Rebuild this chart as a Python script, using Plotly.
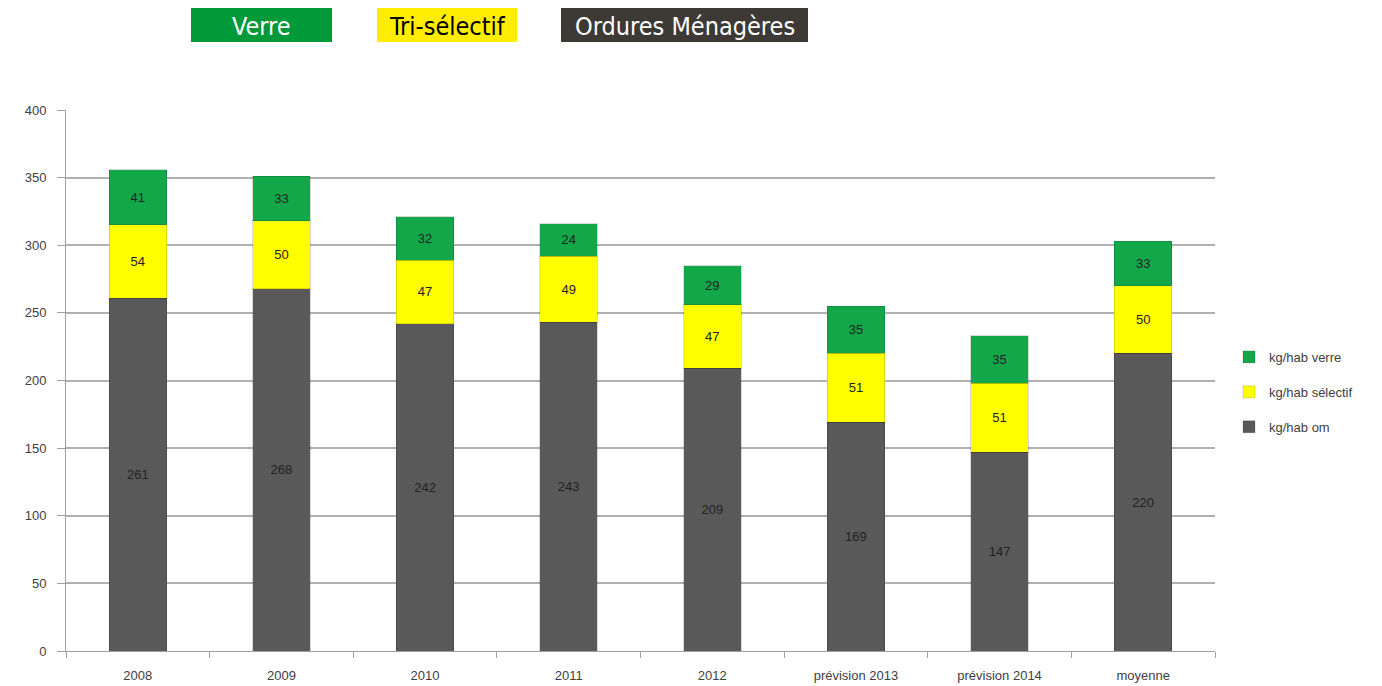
import plotly.graph_objects as go

categories = ["2008", "2009", "2010", "2011", "2012", "prévision 2013", "prévision 2014", "moyenne"]
om = [261, 268, 242, 243, 209, 169, 147, 220]
selectif = [54, 50, 47, 49, 47, 51, 51, 50]
verre = [41, 33, 32, 24, 29, 35, 35, 33]
y_ticks = [0, 50, 100, 150, 200, 250, 300, 350, 400]

# page offset (body margin) in px
OFF = 8
L, T = 66 - OFF, 110 - OFF
PW, PH = 1149, 541

fig = go.Figure()
series = [
    ("kg/hab om", om, "#595959", "g1", 3),
    ("kg/hab sélectif", selectif, "#ffff00", "g2", 2),
    ("kg/hab verre", verre, "#12a84a", "g3", 1),
]
for name, vals, col, grp, rank in series:
    fig.add_trace(go.Bar(
        x=categories, y=vals, name=name, legendgroup=grp, legendrank=rank,
        marker=dict(color=col, line=dict(color="rgba(0,0,0,0.15)", width=1)),
        text=[str(v) for v in vals], textposition="inside", insidetextanchor="middle",
        textfont=dict(family="Liberation Sans, Arial, sans-serif", size=13, color="#222222"),
        textangle=0, cliponaxis=False,
    ))

fig.update_layout(
    barmode="stack", bargap=0.6,
    width=1382, height=686,
    margin=dict(l=L, r=1382 - L - PW, t=T, b=686 - T - PH),
    paper_bgcolor="white", plot_bgcolor="white",
    font=dict(family="Liberation Sans, Arial, sans-serif", size=13, color="#404040"),
    showlegend=True,
    legend=dict(x=(1229 - OFF - L) / PW, y=(T + PH - (392 - OFF)) / PH,
                xanchor="left", yanchor="middle",
                traceorder="grouped", tracegroupgap=15,
                font=dict(size=13, color="#404040"), itemwidth=30),
)
fig.update_xaxes(
    type="category", showline=True, linecolor="#a0a0a0", linewidth=1,
    ticks="outside", tickson="boundaries", ticklen=6, tickcolor="#a0a0a0",
    ticklabelstandoff=12,
    showgrid=False, tickfont=dict(size=13, color="#404040"),
)
fig.update_yaxes(
    range=[0, 400], tickvals=y_ticks, showline=True, linecolor="#a0a0a0", linewidth=1,
    ticks="outside", ticklen=8, tickcolor="#a0a0a0", ticklabelstandoff=8,
    showgrid=True, gridcolor="#b0b0b0", gridwidth=2, zeroline=False,
    tickfont=dict(size=13, color="#404040"),
)

boxes = [
    ("Verre", 191, 332, "#009a3b", "white"),
    ("Tri-sélectif", 377, 517, "#ffed00", "black"),
    ("Ordures Ménagères", 561, 808, "#3d3935", "white"),
]
for label, x0, x1, bg, fc in boxes:
    fx0, fx1 = x0 - OFF - L, x1 - OFF - L
    fy_top, fy_bot = 6 - OFF, 42 - OFF
    fig.add_shape(type="rect", xref="paper", yref="paper",
                  x0=fx0 / PW, x1=fx1 / PW,
                  y0=(T + PH - fy_bot) / PH, y1=(T + PH - fy_top) / PH,
                  fillcolor=bg, line=dict(width=0), layer="above")
    fig.add_annotation(xref="paper", yref="paper",
                       x=(fx0 + fx1) / 2 / PW, y=(T + PH - ((fy_top + fy_bot) / 2 + 2)) / PH,
                       text=label, showarrow=False, xanchor="center", yanchor="middle",
                       font=dict(family="Liberation Sans Narrow, DejaVu Sans Condensed, sans-serif",
                                 size=25, color=fc))

fig.write_html("out.html")
